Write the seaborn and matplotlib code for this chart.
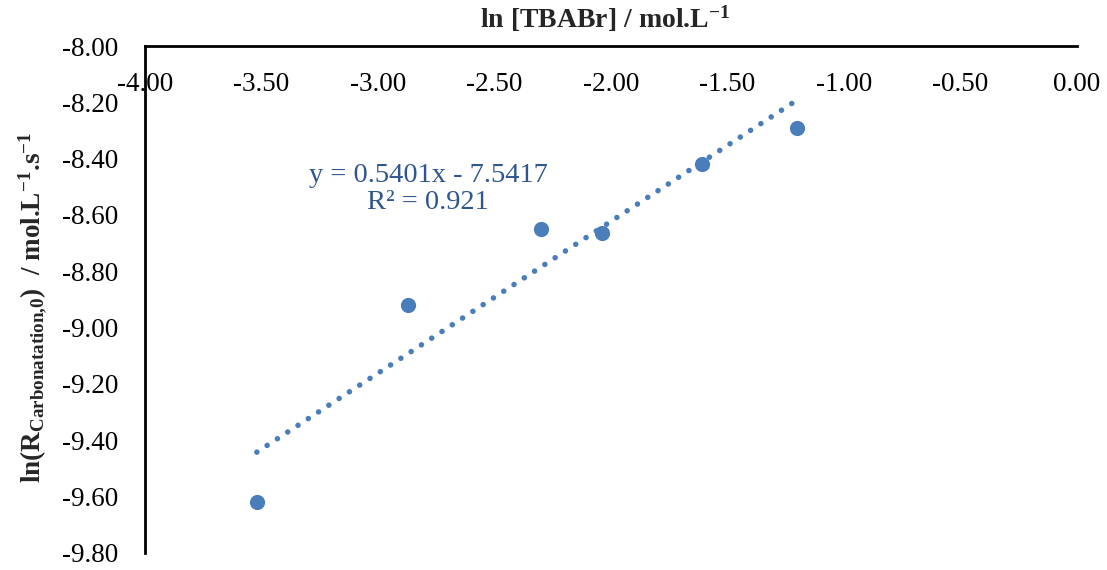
import numpy as np
import pandas as pd
import matplotlib
matplotlib.use("Agg")
import matplotlib.pyplot as plt
import seaborn as sns

# Data
ln_tbabr = [-3.52, -2.87, -2.30, -2.04, -1.61, -1.20]
ln_rate = [-9.62, -8.92, -8.65, -8.665, -8.42, -8.29]
x_ticks = [-4.0, -3.5, -3.0, -2.5, -2.0, -1.5, -1.0, -0.5, 0.0]
y_ticks = [-9.8, -9.6, -9.4, -9.2, -9.0, -8.8, -8.6, -8.4, -8.2, -8.0]
equation_text = "y = 0.5401x - 7.5417\nR² = 0.921"

sns.set_style("white")
plt.rcParams["font.family"] = ["Liberation Serif", "DejaVu Serif"]
plt.rcParams["mathtext.fontset"] = "custom"
plt.rcParams["mathtext.rm"] = "Liberation Serif"
plt.rcParams["mathtext.bf"] = "Liberation Serif:bold"
plt.rcParams["mathtext.it"] = "Liberation Serif:italic"

df = pd.DataFrame({"x": ln_tbabr, "y": ln_rate})

fig = plt.figure(figsize=(11.07, 5.70), dpi=100)
ax = fig.add_axes([145 / 1107, 17 / 570, 932 / 1107, 507 / 570])

point_color = "#4A7EBB"
sns.regplot(
    data=df, x="x", y="y", ax=ax, ci=None,
    scatter_kws=dict(s=120, color=point_color, linewidths=0, alpha=1, zorder=3),
    line_kws=dict(color=point_color, lw=4.0, linestyle=(0, (0.01, 2.2)),
                  dash_capstyle="round", zorder=2),
)

ax.set_xlim(-4.0, 0.0)
ax.set_ylim(-9.8, -8.0)
ax.set_xticks(x_ticks)
ax.set_yticks(y_ticks)
ax.set_xticklabels([f"{abs(v):.2f}" if v == 0 else f"{v:.2f}" for v in x_ticks])
ax.set_yticklabels([f"{v:.2f}" for v in y_ticks])
ax.set_xlabel("")
ax.set_ylabel("")

for s in ["top", "right"]:
    ax.spines[s].set_visible(False)
ax.spines["bottom"].set_position(("data", -8.0))
for s in ["left", "bottom"]:
    ax.spines[s].set_color("black")
    ax.spines[s].set_linewidth(2.0)

ax.tick_params(axis="both", length=0, labelsize=19.5, colors="black")
ax.tick_params(axis="x", pad=19)
ax.tick_params(axis="y", pad=19)
ax.grid(False)

ax.text(0.3037, 0.718, equation_text, transform=ax.transAxes,
        ha="center", va="center", multialignment="center",
        fontsize=20.5, color="#2F5690", linespacing=1.15)

fig.text(605 / 1107, 1 - 19 / 570, r"ln [TBABr] / mol.L$^{\mathbf{-1}}$",
         ha="center", va="center", fontsize=20, fontweight="bold")
fig.text(33 / 1107, 1 - 307 / 570,
         r"ln(R$_{\mathbf{Carbonatation{,}0}}$)  / mol.L$^{\mathbf{-1}}$.s$^{\mathbf{-1}}$",
         ha="center", va="center", rotation=90, fontsize=19.5, fontweight="bold")

fig.savefig("out.png", dpi=100)
